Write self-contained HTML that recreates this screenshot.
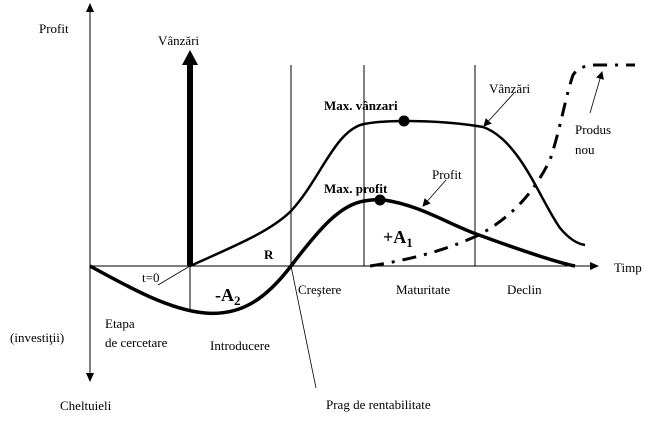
<!DOCTYPE html>
<html><head><meta charset="utf-8"><style>
body{margin:0;background:#fff}
svg{display:block}
text{font-family:"Liberation Serif",serif;font-size:13px;fill:#000}
.b{font-weight:bold}
</style></head><body>
<svg width="665" height="436" viewBox="0 0 665 436" xmlns="http://www.w3.org/2000/svg">
<defs>
<marker id="ah" markerWidth="8" markerHeight="8" refX="7" refY="4" orient="auto" markerUnits="userSpaceOnUse"><path d="M0,0 L8,4 L0,8 z" fill="#000"/></marker>
</defs>
<line x1="90" y1="380" x2="90" y2="5" stroke="#000" stroke-width="1"/>
<path d="M86,12 L90,3 L94,12z" fill="#000"/>
<path d="M86,373 L90,382 L94,373z" fill="#000"/>
<line x1="90" y1="266" x2="598" y2="266" stroke="#000" stroke-width="1"/>
<path d="M590,262 L599,266 L590,270z" fill="#000"/>
<line x1="190" y1="266" x2="190" y2="312" stroke="#000"/>
<line x1="291" y1="65" x2="291" y2="266" stroke="#000"/>
<line x1="364" y1="65" x2="364" y2="266" stroke="#000"/>
<line x1="475" y1="65" x2="475" y2="266" stroke="#000"/>
<rect x="187" y="64" width="6" height="202" fill="#000"/>
<path d="M182,65 L190,50 L198,65z" fill="#000"/>
<path d="M190,266 C230,248 270,232 291,211 C320,180 335,130 364,124 C380,121 395,121 404,121 C430,121 460,123 483,127 C520,140 540,200 560,228 C570,240 578,244 585,245" fill="none" stroke="#000" stroke-width="2.5"/>
<circle cx="404" cy="121" r="5.5" fill="#000"/>
<path d="M90,266 C130,288 170,310 205,313 C240,316 265,300 291,266 C320,228 340,205 364,201 C372,200 378,199 384,200 C420,205 450,225 479,235 C520,250 555,262 575,266" fill="none" stroke="#000" stroke-width="3.5"/>
<circle cx="380" cy="200" r="5.5" fill="#000"/>
<path d="M370,266 C420,258 450,248 479,235 C515,215 535,190 550,160 C560,130 566,95 573,75 C578,68 583,66 595,65 L635,65" fill="none" stroke="#000" stroke-width="3" stroke-dasharray="14,8,3,8"/>
<line x1="158" y1="285" x2="190" y2="266" stroke="#000" stroke-width="0.8"/>
<line x1="291" y1="266" x2="316" y2="388" stroke="#000" stroke-width="0.8"/>
<line x1="514" y1="93" x2="484" y2="126" stroke="#000" stroke-width="0.8" marker-end="url(#ah)"/>
<line x1="446" y1="180" x2="423" y2="206" stroke="#000" stroke-width="0.8" marker-end="url(#ah)"/>
<line x1="590" y1="113" x2="602" y2="72" stroke="#000" stroke-width="0.8" marker-end="url(#ah)"/>
<text x="39" y="33">Profit</text>
<text x="158" y="45">Vânzări</text>
<text x="324" y="110" class="b">Max. vânzari</text>
<text x="324" y="193" class="b">Max. profit</text>
<text x="489" y="93">Vânzări</text>
<text x="432" y="179">Profit</text>
<text x="575" y="134">Produs</text>
<text x="575" y="154">nou</text>
<text x="383" y="243" class="b" style="font-size:18px">+A<tspan font-size="13" dy="4">1</tspan></text>
<text x="264" y="259" class="b">R</text>
<text x="142" y="282">t=0</text>
<text x="215" y="301" class="b" style="font-size:18px">-A<tspan font-size="13" dy="4">2</tspan></text>
<text x="298" y="294">Creştere</text>
<text x="396" y="294">Maturitate</text>
<text x="507" y="294">Declin</text>
<text x="614" y="272">Timp</text>
<text x="105" y="328">Etapa</text>
<text x="105" y="347">de cercetare</text>
<text x="10" y="342">(investiţii)</text>
<text x="210" y="350">Introducere</text>
<text x="60" y="410">Cheltuieli</text>
<text x="326" y="409">Prag de rentabilitate</text>
</svg>
</body></html>
